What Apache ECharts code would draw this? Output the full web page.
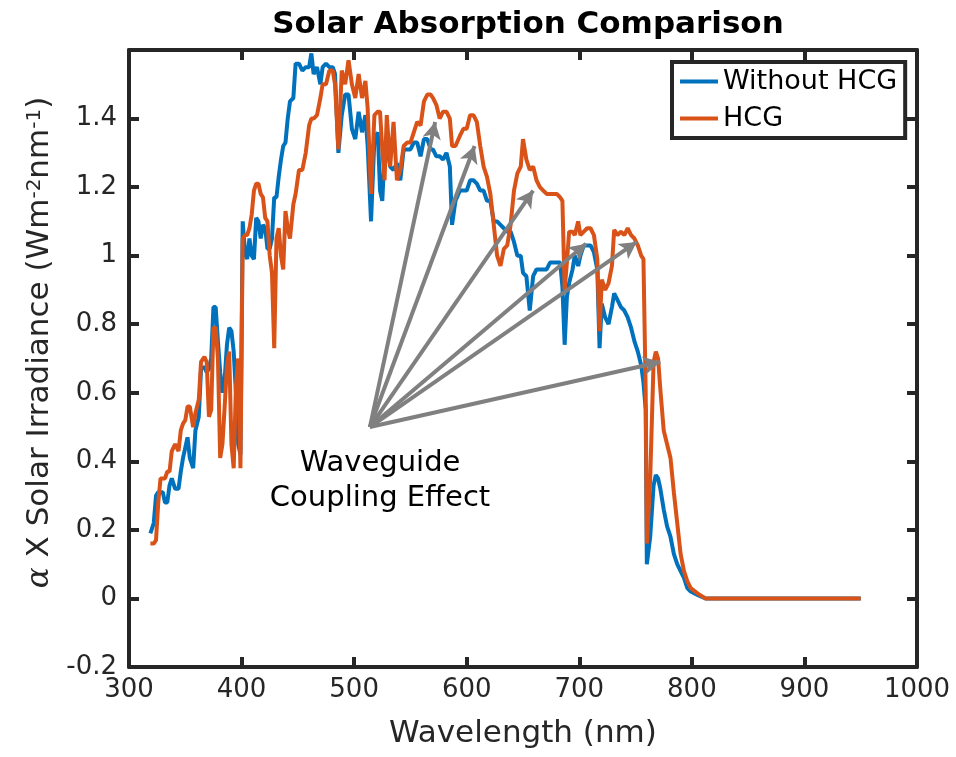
<!DOCTYPE html>
<html>
<head>
<meta charset="utf-8">
<script src="https://cdn.jsdelivr.net/npm/echarts@6/dist/echarts.min.js"></script>
<style>
  html, body { margin: 0; padding: 0; background: #fff; }
  #myChart { width: 956px; height: 757px; }
</style>
</head>
<body>
<div id="myChart"></div>
<script>
// wavelength (nm)
const wavelengths = [
  319, 322, 324, 326, 328, 330, 332, 334, 336, 338,
  341, 344, 346, 348, 350, 352, 354, 357, 359, 362,
  364, 367, 369, 371, 373, 375, 377, 379, 381, 383,
  385, 387, 389, 391, 393, 395, 397, 399,
  401, 403, 405, 407, 409, 411, 413, 415, 417, 419,
  421, 423, 425, 427, 429, 431, 433, 435, 437, 439,
  441, 443, 446, 448, 451, 454, 457, 460, 462, 464,
  467, 470, 472, 475, 478, 481, 483, 486, 489, 492,
  495, 498, 501, 504, 507, 510, 512, 515, 518, 521,
  523, 525, 527, 529, 532, 535, 538, 541, 544, 547,
  550, 553, 556, 559, 562, 565, 568, 570, 573, 576,
  579, 582, 585, 587, 590, 594, 597, 600, 603, 606,
  609, 612, 615, 618, 621, 624, 627, 630, 633, 636,
  639, 642, 645, 648, 650, 653, 656, 659, 662, 665,
  668, 671, 674, 677, 680, 683, 685, 687, 689, 691,
  694, 696, 699, 701, 704, 707, 710, 713, 716, 718,
  720, 723, 726, 729, 731, 734, 737, 740, 743, 746,
  749, 752, 755, 757, 759, 760, 763, 766, 768, 770,
  772, 775, 778, 781, 784, 787, 790, 793, 796, 799,
  805, 812, 950
];

// alpha x solar irradiance, without HCG
const withoutHcg = [
  0.19, 0.22, 0.30, 0.31, 0.31, 0.31, 0.28, 0.28, 0.33, 0.35,
  0.32, 0.32, 0.37, 0.41, 0.44, 0.47, 0.41, 0.38, 0.49, 0.53,
  0.67, 0.675, 0.66, 0.67, 0.70, 0.85, 0.85, 0.75, 0.66, 0.60,
  0.64, 0.74, 0.79, 0.78, 0.72, 0.60, 0.45, 0.42,
  1.10, 1.01, 0.99, 1.05, 1.00, 0.99, 1.11, 1.10, 1.05, 1.09,
  1.08, 1.02, 1.02, 1.05, 1.17, 1.17, 1.23, 1.28, 1.32, 1.33,
  1.40, 1.45, 1.46, 1.56, 1.56, 1.54, 1.55, 1.55, 1.59, 1.53,
  1.55, 1.50, 1.55, 1.56, 1.55, 1.55, 1.53, 1.30, 1.41, 1.47,
  1.47, 1.37, 1.34, 1.42, 1.36, 1.41, 1.32, 1.10, 1.34, 1.36,
  1.19, 1.16, 1.30, 1.32, 1.26, 1.25, 1.27, 1.22, 1.31, 1.31,
  1.31, 1.33, 1.33, 1.29, 1.34, 1.34, 1.31, 1.31, 1.29, 1.29,
  1.28, 1.30, 1.26, 1.09, 1.16, 1.19, 1.19, 1.19, 1.22, 1.22,
  1.21, 1.19, 1.19, 1.16, 1.16, 1.10, 1.10, 1.09, 1.08, 1.07,
  1.07, 1.04, 1.00, 1.00, 0.95, 0.94, 0.84, 0.94, 0.96, 0.96,
  0.96, 0.96, 0.98, 0.98, 0.98, 0.98, 0.91, 0.74, 0.88, 0.92,
  0.96, 1.00, 0.97, 1.00, 1.03, 1.03, 1.03, 1.01, 0.96, 0.73,
  0.86, 0.82, 0.80, 0.85, 0.89, 0.87, 0.85, 0.84, 0.82, 0.79,
  0.75, 0.72, 0.68, 0.63, 0.55, 0.10, 0.18, 0.33, 0.36, 0.35,
  0.32, 0.26, 0.21, 0.18, 0.13, 0.10, 0.08, 0.06, 0.03, 0.02,
  0.01, 0, 0
];

// alpha x solar irradiance, HCG
const hcg = [
  0.16, 0.16, 0.17, 0.28, 0.35, 0.35, 0.35, 0.37, 0.37, 0.43,
  0.45, 0.43, 0.49, 0.51, 0.52, 0.56, 0.56, 0.50, 0.54, 0.58,
  0.69, 0.705, 0.69, 0.53, 0.55, 0.79, 0.79, 0.70, 0.41, 0.45,
  0.56, 0.68, 0.72, 0.45, 0.38, 0.62, 0.70, 0.38,
  1.05, 1.06, 1.06, 1.08, 1.12, 1.19, 1.21, 1.21, 1.18, 1.17,
  1.11, 1.10, 1.00, 0.95, 0.73, 1.05, 1.08, 1.00, 0.96, 1.13,
  1.08, 1.05, 1.15, 1.18, 1.25, 1.25, 1.30, 1.38, 1.40, 1.40,
  1.41, 1.46, 1.50, 1.50, 1.54, 1.54, 1.50, 1.31, 1.54, 1.50,
  1.57, 1.50, 1.46, 1.53, 1.46, 1.51, 1.43, 1.18, 1.41, 1.42,
  1.42, 1.31, 1.22, 1.41, 1.26, 1.39, 1.22, 1.25, 1.32, 1.33,
  1.33, 1.36, 1.39, 1.38, 1.45, 1.47, 1.47, 1.46, 1.44, 1.40,
  1.42, 1.42, 1.40, 1.32, 1.32, 1.35, 1.37, 1.37, 1.41, 1.41,
  1.39, 1.32, 1.26, 1.23, 1.18, 1.09, 1.00, 0.97, 1.02, 1.03,
  1.09, 1.19, 1.24, 1.26, 1.34, 1.28, 1.25, 1.26, 1.22, 1.20,
  1.19, 1.18, 1.18, 1.18, 1.18, 1.17, 1.16, 0.90, 0.98, 1.07,
  1.07, 1.06, 1.10, 1.06, 1.07, 1.08, 1.08, 1.06, 0.99, 0.78,
  0.93, 0.90, 0.92, 0.97, 1.075, 1.06, 1.07, 1.06, 1.08, 1.06,
  1.05, 1.03, 1.00, 0.99, 0.60, 0.16, 0.35, 0.69, 0.72, 0.70,
  0.61, 0.49, 0.45, 0.41, 0.31, 0.22, 0.13, 0.08, 0.05, 0.03,
  0.015, 0, 0
];

// arrows: one start, six tips (nm, value)
const arrowStart = [514, 0.5];
const arrowTips = [[572, 1.39], [607, 1.32], [659, 1.19], [706, 1.035], [751, 1.04], [772, 0.69]];
const noteText = 'Waveguide\nCoupling Effect';
const notePos = [523, 0.344];

const font = 'DejaVu Sans';
const axisColor = '#262626';

const pairs = ys => wavelengths.map((x, i) => [x, ys[i]]);

const baseX = {
  type: 'value',
  min: 300,
  max: 1000,
  interval: 100,
  axisLine: { show: true, onZero: false, lineStyle: { color: axisColor, width: 4 } },
  axisTick: { show: true, inside: true, length: 10, lineStyle: { color: axisColor, width: 4 } },
  splitLine: { show: false },
};
const baseY = {
  type: 'value',
  min: -0.2,
  max: 1.6,
  interval: 0.2,
  axisLine: { show: true, onZero: false, lineStyle: { color: axisColor, width: 4 } },
  axisTick: { show: true, inside: true, length: 10, lineStyle: { color: axisColor, width: 4 } },
  splitLine: { show: false },
};

const option = {
  backgroundColor: '#fff',
  animation: false,
  title: {
    text: 'Solar Absorption Comparison',
    left: 523,
    top: 4,
    textAlign: 'center',
    textStyle: { fontFamily: font, fontSize: 31, fontWeight: 'bold', color: '#000' },
  },
  legend: {
    data: ['Without HCG', 'HCG'],
    orient: 'vertical',
    left: 672,
    top: 62,
    icon: 'rect',
    itemWidth: 38,
    itemHeight: 4,
    itemGap: 10,
    padding: [6, 8, 6, 8],
    borderColor: axisColor,
    borderWidth: 4,
    backgroundColor: '#fff',
    textStyle: { fontFamily: font, fontSize: 27, color: '#000' },
  },
  grid: { left: 129, right: 39, top: 50, bottom: 90 },
  xAxis: [
    Object.assign({}, baseX, {
      position: 'bottom',
      name: 'Wavelength (nm)',
      nameLocation: 'middle',
      nameGap: 51,
      nameTextStyle: { fontFamily: font, fontSize: 31, color: axisColor },
      axisLabel: { fontFamily: font, fontSize: 26, color: axisColor, margin: 10, formatter: v => String(v) },
    }),
    Object.assign({}, baseX, { position: 'top', axisLabel: { show: false } }),
  ],
  yAxis: [
    Object.assign({}, baseY, {
      position: 'left',
      name: '{a|α} X Solar Irradiance (Wm{s|-2}nm{s|-1})',
      nameLocation: 'middle',
      nameGap: 73,
      nameTextStyle: {
        fontFamily: font, fontSize: 31, color: axisColor,
        padding: [0, 0, 0, 32],
        rich: {
          a: { fontFamily: 'DejaVu Serif', fontStyle: 'italic', fontSize: 31, color: axisColor },
          s: { fontFamily: font, fontSize: 20, color: axisColor, verticalAlign: 'top', lineHeight: 14 },
        },
      },
      axisLabel: { fontFamily: font, fontSize: 26, color: axisColor, margin: 12, showMaxLabel: false },
    }),
    Object.assign({}, baseY, { position: 'right', axisLabel: { show: false } }),
  ],
  series: [
    {
      name: 'Without HCG',
      type: 'line',
      data: pairs(withoutHcg),
      showSymbol: false,
      lineStyle: { color: '#0072BD', width: 4 },
      itemStyle: { color: '#0072BD' },
      z: 2,
      markPoint: {
        silent: true,
        symbol: 'circle',
        symbolSize: 0,
        label: {
          show: true,
          position: 'inside',
          formatter: noteText,
          fontFamily: font,
          fontSize: 29,
          lineHeight: 35,
          align: 'center',
          color: '#000',
        },
        data: [{ coord: notePos }],
      },
    },
    {
      name: 'HCG',
      type: 'line',
      data: pairs(hcg),
      showSymbol: false,
      lineStyle: { color: '#D95319', width: 4 },
      itemStyle: { color: '#D95319' },
      z: 3,
      markLine: {
        silent: true,
        symbol: ['none', 'arrow'],
        symbolSize: [14, 17],
        label: { show: false },
        lineStyle: { color: '#808080', width: 4, type: 'solid' },
        data: arrowTips.map(t => [{ coord: arrowStart }, { coord: t }]),
      },
    },
  ],
};

const myChart = echarts.init(document.getElementById('myChart'));
myChart.setOption(option);
</script>
</body>
</html>
